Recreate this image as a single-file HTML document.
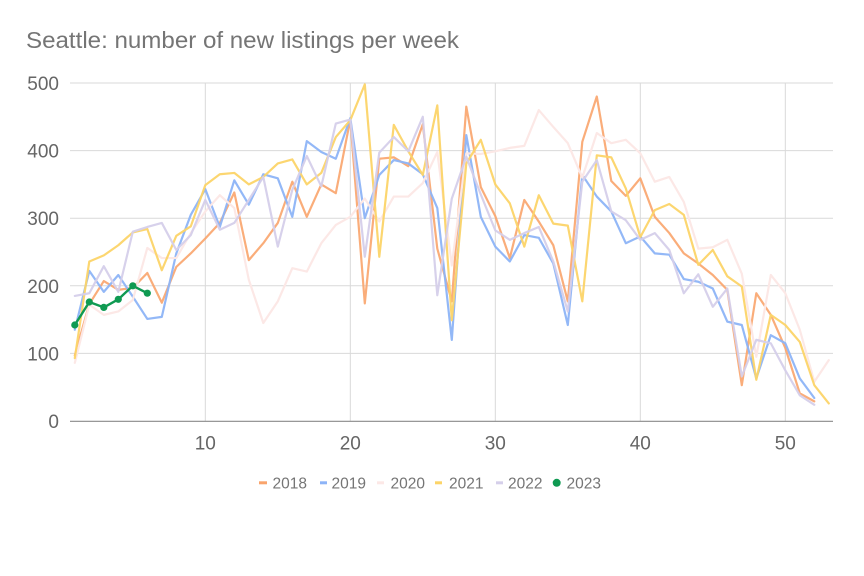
<!DOCTYPE html>
<html>
<head>
<meta charset="utf-8">
<style>
  html,body{margin:0;padding:0;background:#fff;}
  svg{display:block;}
  text{font-family:"Liberation Sans", Arial, sans-serif;}
</style>
</head>
<body>
<svg width="864" height="576" viewBox="0 0 864 576" xmlns="http://www.w3.org/2000/svg">
  <rect width="864" height="576" fill="#fff"/>
  <!-- title -->
  <text x="26" y="48" font-size="23" fill="#757575" textLength="433" lengthAdjust="spacingAndGlyphs">Seattle: number of new listings per week</text>

  <!-- horizontal gridlines -->
  <g stroke="#d9d9d9" stroke-width="1">
    <line x1="70" y1="83" x2="833" y2="83"/>
    <line x1="70" y1="150.6" x2="833" y2="150.6"/>
    <line x1="70" y1="218.2" x2="833" y2="218.2"/>
    <line x1="70" y1="285.8" x2="833" y2="285.8"/>
    <line x1="70" y1="353.4" x2="833" y2="353.4"/>
    <!-- vertical gridlines -->
    <line x1="205.3" y1="83" x2="205.3" y2="421"/>
    <line x1="350.3" y1="83" x2="350.3" y2="421"/>
    <line x1="495.3" y1="83" x2="495.3" y2="421"/>
    <line x1="640.3" y1="83" x2="640.3" y2="421"/>
    <line x1="785.3" y1="83" x2="785.3" y2="421"/>
  </g>
  <line x1="70" y1="421.3" x2="833" y2="421.3" stroke="#8a8a8a" stroke-width="1.2"/>

  <!-- y labels -->
  <g font-size="19" fill="#666" text-anchor="end">
    <text x="59" y="90">500</text>
    <text x="59" y="157.6">400</text>
    <text x="59" y="225.2">300</text>
    <text x="59" y="292.8">200</text>
    <text x="59" y="360.4">100</text>
    <text x="59" y="428">0</text>
  </g>
  <!-- x labels -->
  <g font-size="19" fill="#666" text-anchor="middle">
    <text x="205.3" y="449.5">10</text>
    <text x="350.3" y="449.5">20</text>
    <text x="495.3" y="449.5">30</text>
    <text x="640.3" y="449.5">40</text>
    <text x="785.3" y="449.5">50</text>
  </g>

  <!-- series: data coordinates (week, value) -->
  <g transform="matrix(14.5 0 0 -0.676 60.3 421)" fill="none" stroke-linejoin="round" stroke-linecap="round">
    <!-- 2018 -->
    <polyline vector-effect="non-scaling-stroke" stroke="#f9a46c" stroke-width="2.2" stroke-opacity="0.9"
      points="1,97 2,173 3,207 4,194 5,197 6,219 7,175 8,228 9,248 10,270 11,293 12,338 13,238 14,263 15,293 16,354 17,302 18,350 19,337 20,446 21,174 22,388 23,390 24,377 25,439 26,255 27,177 28,465 29,346 30,303 31,241 32,327 33,295 34,260 35,177 36,413 37,480 38,355 39,333 40,359 41,302 42,278 43,248 44,233 45,216 46,194 47,53 48,189 49,157 50,108 51,41 52,29"/>
    <!-- 2019 -->
    <polyline vector-effect="non-scaling-stroke" stroke="#8db4f7" stroke-width="2.2" stroke-opacity="0.95"
      points="1,135 2,222 3,191 4,216 5,184 6,151 7,154 8,248 9,305 10,343 11,287 12,356 13,320 14,365 15,359 16,302 17,414 18,398 19,388 20,448 21,300 22,364 23,386 24,381 25,365 26,315 27,120 28,423 29,302 30,258 31,236 32,275 33,271 34,233 35,142 36,364 37,332 38,310 39,263 40,273 41,248 42,246 43,210 44,206 45,196 46,147 47,142 48,63 49,127 50,115 51,63 52,34"/>
    <!-- 2020 -->
    <polyline vector-effect="non-scaling-stroke" stroke="#fce8e6" stroke-width="2.2"
      points="1,86 2,172 3,157 4,162 5,179 6,256 7,241 8,241 9,278 10,310 11,334 12,315 13,209 14,145 15,177 16,226 17,221 18,263 19,290 20,302 21,329 22,295 23,332 24,332 25,352 26,398 27,230 28,396 29,395 30,399 31,404 32,407 33,460 34,435 35,411 36,360 37,426 38,411 39,416 40,396 41,354 42,361 43,324 44,255 45,257 46,268 47,218 48,95 49,216 50,189 51,135 52,58 53,90"/>
    <!-- 2021 -->
    <polyline vector-effect="non-scaling-stroke" stroke="#fcd468" stroke-width="2.2" stroke-opacity="0.95"
      points="1,93 2,236 3,245 4,260 5,279 6,284 7,223 8,274 9,288 10,349 11,365 12,367 13,350 14,361 15,381 16,387 17,350 18,367 19,420 20,445 21,498 22,243 23,438 24,399 25,364 26,467 27,149 28,381 29,416 30,350 31,322 32,258 33,334 34,292 35,289 36,177 37,393 38,390 39,344 40,272 41,312 42,321 43,305 44,231 45,253 46,214 47,199 48,61 49,157 50,142 51,117 52,53 53,26"/>
    <!-- 2022 -->
    <polyline vector-effect="non-scaling-stroke" stroke="#d5cfea" stroke-width="2.2" stroke-opacity="0.95"
      points="1,185 2,189 3,229 4,191 5,280 6,287 7,293 8,253 9,275 10,327 11,283 12,293 13,327 14,361 15,258 16,342 17,392 18,347 19,440 20,446 21,243 22,397 23,420 24,399 25,450 26,186 27,329 28,391 29,335 30,282 31,268 32,278 33,287 34,236 35,162 36,354 37,386 38,310 39,297 40,268 41,278 42,253 43,189 44,217 45,169 46,196 47,66 48,120 49,115 50,75 51,38 52,24"/>
    <!-- 2023 -->
    <polyline vector-effect="non-scaling-stroke" stroke="#0f9a52" stroke-width="2.4"
      points="1,142 2,176 3,168 4,180 5,200 6,189"/>
  </g>
  <g fill="#0f9a52">
    <circle cx="74.8" cy="325" r="3.6"/>
    <circle cx="89.3" cy="302" r="3.6"/>
    <circle cx="103.8" cy="307.4" r="3.6"/>
    <circle cx="118.3" cy="299.3" r="3.6"/>
    <circle cx="132.8" cy="285.8" r="3.6"/>
    <circle cx="147.3" cy="293.2" r="3.6"/>
  </g>

  <!-- legend -->
  <g stroke-width="3" stroke-linecap="butt">
    <line x1="259" y1="482.8" x2="267" y2="482.8" stroke="#f9a46c"/>
    <line x1="320" y1="482.8" x2="327" y2="482.8" stroke="#8db4f7"/>
    <line x1="377" y1="482.8" x2="384" y2="482.8" stroke="#fce8e6"/>
    <line x1="435" y1="482.8" x2="442" y2="482.8" stroke="#fcd468"/>
    <line x1="496" y1="482.8" x2="503" y2="482.8" stroke="#d5cfea"/>
  </g>
  <circle cx="556.7" cy="482.8" r="4" fill="#0f9a52"/>
  <g font-size="15.5" fill="#757575">
    <text x="272.5" y="488.5">2018</text>
    <text x="331.5" y="488.5">2019</text>
    <text x="390.5" y="488.5">2020</text>
    <text x="449" y="488.5">2021</text>
    <text x="508" y="488.5">2022</text>
    <text x="566.5" y="488.5">2023</text>
  </g>
</svg>
</body>
</html>
